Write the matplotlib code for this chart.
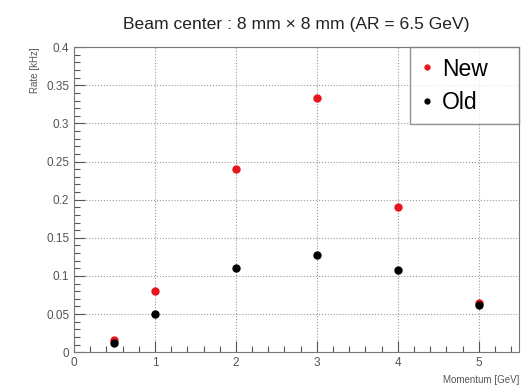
import matplotlib.pyplot as plt
from matplotlib.ticker import MultipleLocator

plt.rcParams['font.family'] = ['Liberation Sans', 'DejaVu Sans']

# --- DATA ---
momentum = [0.5, 1, 2, 3, 4, 5]
rate_new = [0.016, 0.080, 0.240, 0.333, 0.190, 0.065]
rate_old = [0.012, 0.050, 0.110, 0.128, 0.108, 0.062]

# --- PLOTTING ---
fig = plt.figure(figsize=(5.25, 3.9), dpi=100)
ax = fig.add_axes([0.141, 0.097, 0.848, 0.782])

ax.plot(momentum, rate_new, 'o', color='#e8141c', markersize=5, label='New', zorder=3)
ax.plot(momentum, rate_old, 'o', color='black', markersize=5, label='Old', zorder=3)

ax.set_xlim(0, 5.5)
ax.set_ylim(0, 0.4)
ax.xaxis.set_minor_locator(MultipleLocator(0.2))
ax.yaxis.set_minor_locator(MultipleLocator(0.01))
ax.set_yticks([0, 0.05, 0.1, 0.15, 0.2, 0.25, 0.3, 0.35, 0.4])
ax.set_yticklabels(['0', '0.05', '0.1', '0.15', '0.2', '0.25', '0.3', '0.35', '0.4'])
ax.set_xticks([0, 1, 2, 3, 4, 5])
ax.set_xticklabels(['0', '1', '2', '3', '4', '5'])

ax.tick_params(which='major', direction='in', length=8, width=0.8, color='#555555',
               labelsize=8.5, labelcolor='#555555', top=False, right=False)
ax.tick_params(which='minor', direction='in', length=4, width=0.8, color='#555555')
ax.grid(True, which='major', linestyle=':', linewidth=0.8, color='#999999')
for s in ax.spines.values():
    s.set_color('#777777')

ax.set_title('Beam center : 8 mm \u00d7 8 mm (AR = 6.5 GeV)', fontsize=12.6, pad=13,
             color='#222222')
ax.set_xlabel('Momentum [GeV]', fontsize=7, color='#555555', loc='right')
ax.set_ylabel('Rate [kHz]', fontsize=7, color='#555555', loc='top')

# fixed-size legend box in the upper right corner
leg = ax.legend(loc='upper left', bbox_to_anchor=(0.755, 0.751, 0.245, 0.249),
                mode='expand', fontsize=16.5, frameon=True, fancybox=False,
                handletextpad=0.35, handlelength=0.6, markerscale=0.7,
                borderaxespad=0.0, labelspacing=0.45, borderpad=0.45)
leg.get_frame().set_edgecolor('#777777')
leg.get_frame().set_linewidth(1.0)

plt.savefig('out.png')
